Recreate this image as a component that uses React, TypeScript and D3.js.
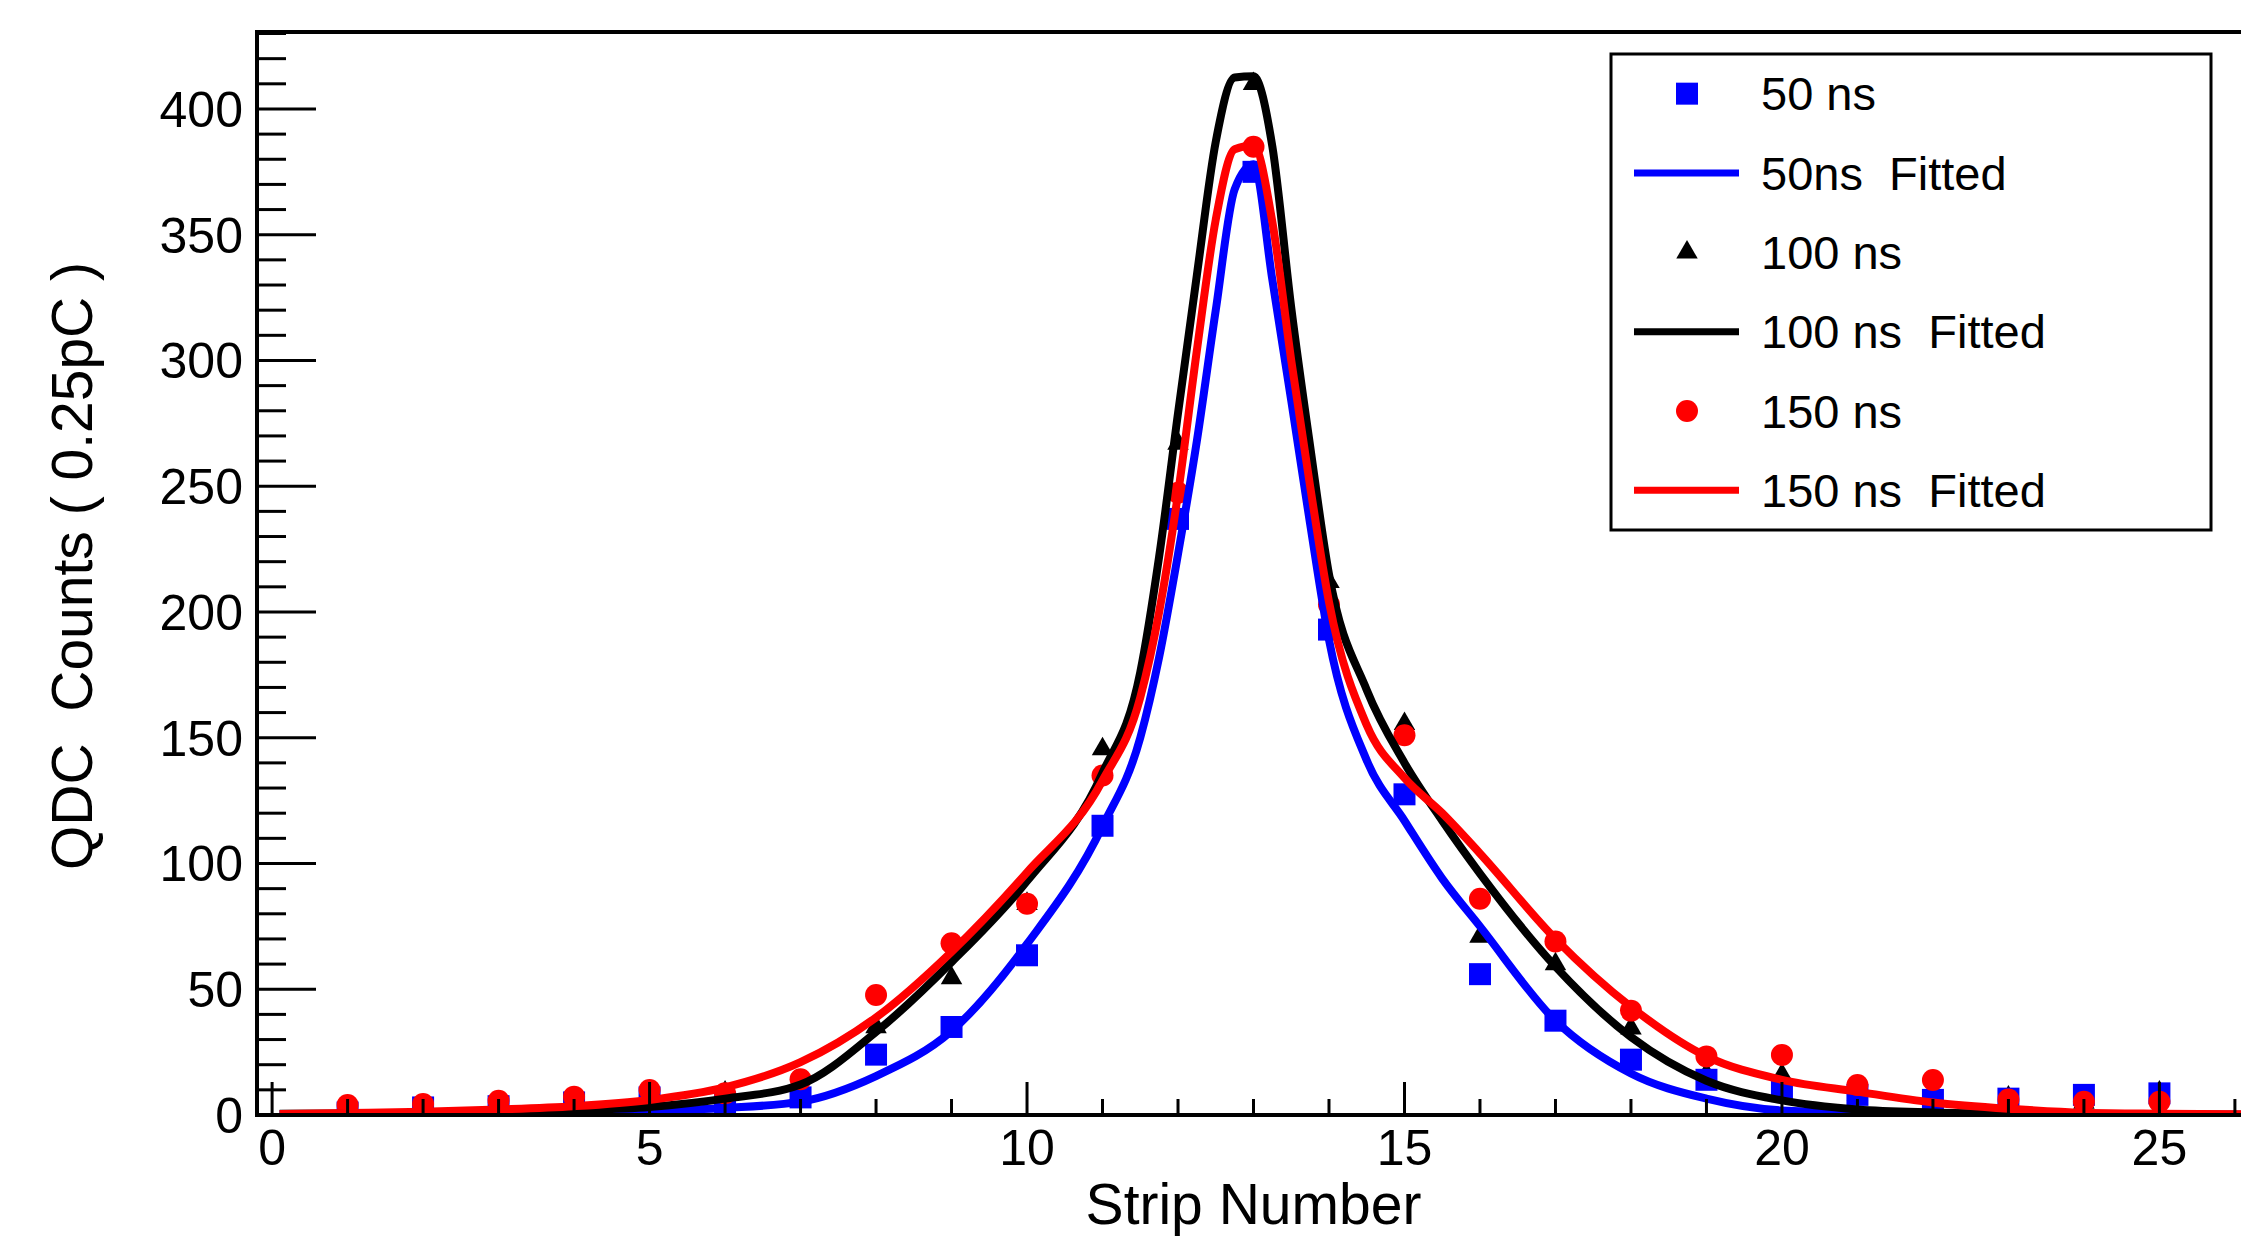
import React from "react"
import * as d3 from "d3"

// strip numbers of the measured points
const strips = [1, 2, 3, 4, 5, 6, 7, 8, 9, 10, 11, 12, 13, 14, 15, 16, 17, 18, 19, 20, 21, 22, 23, 24, 25]

// measured QDC counts
const counts50 = [1, 3, 3.5, 5, 7, 5, 7, 24, 35, 63.5, 115, 237, 375, 193, 127.5, 56, 37.5, 22, 14, 9.5, 8, 6, 6.5, 8, 8.6]
const counts100 = [1, 2, 2, 3, 4, 9, 8, 35, 54.5, 84, 145.5, 267, 410, 212, 155.5, 71, 60, 34.5, 16.3, 15.9, 8, 6.6, 7, 5, 9]
const counts150 = [4, 4.4, 5.7, 7.3, 9.9, 8.6, 14.2, 47.7, 68.3, 84, 135, 247.4, 385, 203, 151, 86, 69, 41.5, 23.3, 23.9, 11.9, 13.9, 6.2, 5.3, 5.3]

// fitted curves
const fitX = [0.1, 1, 2, 3, 4, 5, 6, 7, 8, 9, 10, 11, 11.5, 11.75, 12, 12.25, 12.5, 12.75, 13, 13.25, 13.5, 13.75, 14, 14.5, 15, 15.5, 16, 17, 18, 19, 20, 21, 22, 23, 24, 25, 26.2]
const fit50 = [0.3, 0.4, 0.5, 0.7, 1.0, 1.6, 2.8, 5.3, 15.5, 33.4, 68, 114.8, 150, 182, 223, 268, 320, 368, 378, 332, 284, 235, 189, 141, 117, 94, 75, 37.5, 16.5, 6.5, 1.8, 0.9, 0.5, 0.3, 0.2, 0.1, 0.1]
const fit100 = [0.5, 0.6, 0.8, 1.2, 1.9, 3.2, 6.5, 12.1, 33, 60.8, 93, 136, 176, 222, 279, 334, 387, 412.5, 413, 385, 321, 266, 215, 169, 140, 117, 96, 59, 31, 13.6, 5.8, 2.2, 1, 0.5, 0.3, 0.2, 0.1]
const fit150 = [0.4, 0.8, 1.3, 2.2, 3.5, 6, 11, 21, 38.8, 64.9, 96.5, 133, 166, 200, 247, 304, 356, 384, 385.5, 355, 300, 250, 204, 155, 134, 120, 104, 70, 43, 23.3, 14, 9.3, 5, 2.5, 0.9, 0.5, 0.3]

const xMajor = [0, 5, 10, 15, 20, 25]
const xMinor = d3.range(0, 27, 1)
const yMajor = [0, 50, 100, 150, 200, 250, 300, 350, 400]
const yMinor = d3.range(0, 431, 10)

const legendItems = [
  { label: "50 ns", kind: "square", color: "#0000ff" },
  { label: "50ns  Fitted", kind: "line", color: "#0000ff" },
  { label: "100 ns", kind: "triangle", color: "#000000" },
  { label: "100 ns  Fitted", kind: "line", color: "#000000" },
  { label: "150 ns", kind: "circle", color: "#ff0000" },
  { label: "150 ns  Fitted", kind: "line", color: "#ff0000" },
]

const W = 2241
const H = 1238
const FONT = "'Liberation Sans', Arial, Helvetica, sans-serif"

export default function App() {
  const left = 257, top = 32, bottom = 1115, right = 2250

  const x = d3.scaleLinear().domain([-0.2, 26.2]).range([left, right])
  const y = d3.scaleLinear().domain([0, 430.6]).range([bottom, top])

  const line = d3.line<number>()
    .x((_, i) => x(fitX[i]))
    .y(d => y(d))
    .curve(d3.curveMonotoneX)

  const sym = (kind: string) => {
    if (kind === "square") return d3.symbol(d3.symbolSquare, 484)()
    if (kind === "triangle") return d3.symbol(d3.symbolTriangle, 200)()
    return d3.symbol(d3.symbolCircle, 380)()
  }

  const markers = [
    { data: counts100, kind: "triangle", color: "#000000" },
    { data: counts50, kind: "square", color: "#0000ff" },
    { data: counts150, kind: "circle", color: "#ff0000" },
  ]
  const fits = [
    { data: fit50, color: "#0000ff" },
    { data: fit100, color: "#000000" },
    { data: fit150, color: "#ff0000" },
  ]

  const legX = 1611, legY = 54, legW = 600, legH = 476
  const rowH = legH / legendItems.length

  return (
    <svg width={W} height={H} viewBox={`0 0 ${W} ${H}`}
      style={{ position: "absolute", left: 0, top: 0, background: "#fff" }}
      fontFamily={FONT}>
      <defs>
        <clipPath id="frame">
          <rect x={left} y={top} width={W - left} height={bottom - top} />
        </clipPath>
      </defs>
      <rect x={0} y={0} width={W} height={H} fill="#fff" />

      {/* markers */}
      <g clipPath="url(#frame)">
        {markers.map((m, k) => (
          <g key={k} fill={m.color}>
            {m.data.map((v, i) => (
              <path key={i} d={sym(m.kind) || ""}
                transform={`translate(${x(strips[i])},${y(v)})`} />
            ))}
          </g>
        ))}
        {/* fitted curves */}
        {fits.map((f, k) => (
          <path key={k} d={line(f.data) || ""} fill="none" stroke={f.color}
            strokeWidth={8} strokeLinejoin="round" />
        ))}
      </g>

      {/* ticks */}
      <g stroke="#000" strokeWidth={3}>
        {yMinor.map(t => (
          <line key={"ym" + t} x1={left} x2={left + (t % 50 === 0 ? 59 : 29)} y1={y(t)} y2={y(t)} />
        ))}
        {xMinor.map(t => (
          <line key={"xm" + t} x1={x(t)} x2={x(t)} y1={bottom} y2={bottom - (t % 5 === 0 ? 33 : 16)} />
        ))}
      </g>

      {/* frame */}
      <rect x={left} y={top} width={right - left} height={bottom - top} fill="none" stroke="#000" strokeWidth={4} />

      {/* tick labels */}
      <g fontSize={50} fill="#000">
        {yMajor.map(t => (
          <text key={"yl" + t} x={243} y={y(t) + 18} textAnchor="end">{t}</text>
        ))}
        {xMajor.map(t => (
          <text key={"xl" + t} x={x(t)} y={1165} textAnchor="middle">{t}</text>
        ))}
      </g>

      {/* axis titles */}
      <text x={(left + right) / 2} y={1224} textAnchor="middle" fontSize={57}>Strip Number</text>
      <text transform={`translate(92,566) rotate(-90)`} textAnchor="middle" fontSize={57}
        style={{ whiteSpace: "pre" }}>QDC  Counts ( 0.25pC )</text>

      {/* legend */}
      <rect x={legX} y={legY} width={legW} height={legH} fill="#fff" stroke="#000" strokeWidth={3} />
      {legendItems.map((it, i) => {
        const cy = legY + rowH * (i + 0.5)
        return (
          <g key={it.label}>
            {it.kind === "line" ? (
              <line x1={1634} x2={1739} y1={cy} y2={cy} stroke={it.color} strokeWidth={7} />
            ) : (
              <path d={sym(it.kind) || ""} fill={it.color} transform={`translate(1687,${cy})`} />
            )}
            <text x={1761} y={cy + 16.5} fontSize={47} style={{ whiteSpace: "pre" }}>{it.label}</text>
          </g>
        )
      })}
    </svg>
  )
}
